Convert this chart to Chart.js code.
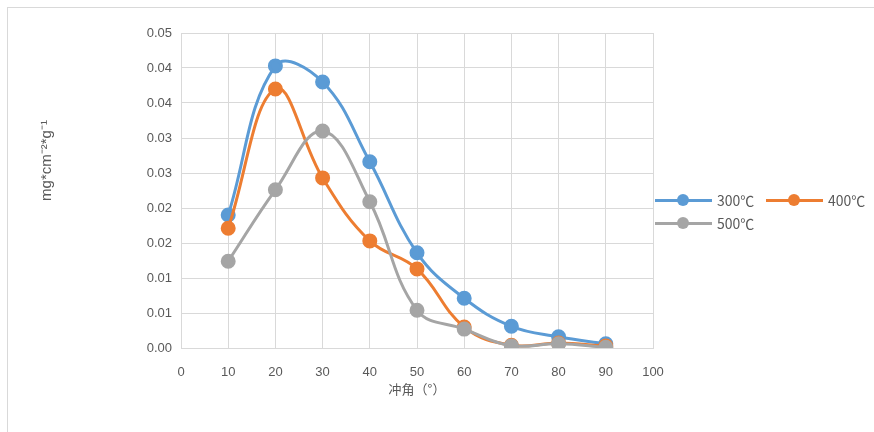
<!DOCTYPE html>
<html>
<head>
<meta charset="utf-8">
<script src="https://cdn.jsdelivr.net/npm/chart.js@4.4.1/dist/chart.umd.min.js"></script>
<style>
  body { margin: 0; background: #fff; }
  #wrap { position: relative; width: 874px; height: 432px; }
  #frame { position: absolute; left: 7px; top: 7px; width: 900px; height: 460px; border: 1px solid #d9d9d9; }
  #lineCanvas { position: absolute; left: 0; top: 0; }
  .legend { position: absolute; font-family: "Noto Sans CJK SC", "Noto Sans", sans-serif; font-size: 14px; color: #595959; }
  .item { position: absolute; white-space: nowrap; display: flex; align-items: center; height: 18px; line-height: 18px; }
  .swatch { position: relative; width: 57px; height: 12px; margin-right: 5px; }
  .swatch i { position: absolute; left: 0; right: 0; top: 5px; height: 3px; }
  .swatch b { position: absolute; left: 22px; top: 0; width: 12px; height: 12px; border-radius: 50%; }
</style>
</head>
<body>
<div id="wrap">
  <div id="frame"></div>
  <canvas id="lineCanvas" width="874" height="432"></canvas>
  <div class="legend" id="legend"></div>
</div>
<script>
// impact angle (°)
const angles = [10, 20, 30, 40, 50, 60, 70, 80, 90];
const seriesNames = ["300℃", "400℃", "500℃"];
const s300 = [0.0190, 0.0403, 0.0380, 0.0266, 0.0136, 0.0071, 0.0031, 0.0016, 0.0006];
const s400 = [0.0171, 0.0370, 0.0243, 0.0153, 0.0113, 0.0030, 0.0004, 0.0007, 0.0003];
const s500 = [0.0124, 0.0226, 0.0310, 0.0209, 0.0054, 0.0027, 0.0003, 0.0006, 0.0001];
const xTicks = [0, 10, 20, 30, 40, 50, 60, 70, 80, 90, 100];
const yTickValues = [0, 0.005, 0.010, 0.015, 0.020, 0.025, 0.030, 0.035, 0.040, 0.045];
const yTickLabels = ["0.00", "0.01", "0.01", "0.02", "0.02", "0.03", "0.03", "0.04", "0.04", "0.05"];
const colors = ["#5b9bd5", "#ed7d31", "#a5a5a5"];

const allSeries = [s300, s400, s500];
const tickFont = { family: "'Liberation Sans', Arial, sans-serif", size: 13 };

const chart = new Chart(document.getElementById("lineCanvas"), {
  type: "line",
  data: {
    datasets: allSeries.map((s, i) => ({
      label: seriesNames[i],
      data: angles.map((a, j) => ({ x: a, y: s[j] })),
      borderColor: colors[i],
      backgroundColor: colors[i],
      borderWidth: 3,
      pointRadius: 6,
      pointHoverRadius: 6,
      tension: 0.4,
      fill: false
    })).reverse()
  },
  options: {
    responsive: false,
    animation: false,
    layout: { padding: { left: 0, right: 221, top: 33, bottom: 31 } },
    plugins: { legend: { display: false }, tooltip: { enabled: false } },
    scales: {
      x: {
        type: "linear",
        min: 0, max: 100,
        afterBuildTicks: ax => { ax.ticks = xTicks.map(v => ({ value: v })); },
        afterFit: ax => { ax.height = 53; },
        grid: { color: "#d9d9d9", drawTicks: false },
        border: { color: "#d9d9d9" },
        ticks: { color: "#595959", font: tickFont, padding: 17 },
        title: { display: true, text: "冲角（°）", color: "#595959",
                 font: { family: "'Noto Sans CJK SC', sans-serif", size: 13 }, padding: { top: 0 } }
      },
      y: {
        min: 0, max: 0.045,
        afterBuildTicks: ax => { ax.ticks = yTickValues.map(v => ({ value: v })); },
        afterFit: ax => { ax.width = 181; },
        grid: { color: "#d9d9d9", drawTicks: false },
        border: { color: "#d9d9d9" },
        ticks: { color: "#595959", font: tickFont, padding: 9,
                 callback: (v, i) => yTickLabels[i] },
        // leading em spaces lift the label a bit above the axis centre, as in the original
        title: { display: true, text: "\u2003\u2003\u2003\u2003mg*cm⁻²*g⁻¹", color: "#595959",
                 font: { family: "'Liberation Sans', sans-serif", size: 15 }, padding: { top: 38 } }
      }
    }
  }
});

// legend, wrapped in two rows like the original
const legend = document.getElementById("legend");
const pos = [[655, 191], [766, 191], [655, 214]];
seriesNames.forEach((name, i) => {
  const d = document.createElement("div");
  d.className = "item";
  d.style.left = pos[i][0] + "px";
  d.style.top = pos[i][1] + "px";
  d.innerHTML = '<span class="swatch"><i style="background:' + colors[i] + '"></i><b style="background:' + colors[i] + '"></b></span>' + name;
  legend.appendChild(d);
});
</script>
</body>
</html>
